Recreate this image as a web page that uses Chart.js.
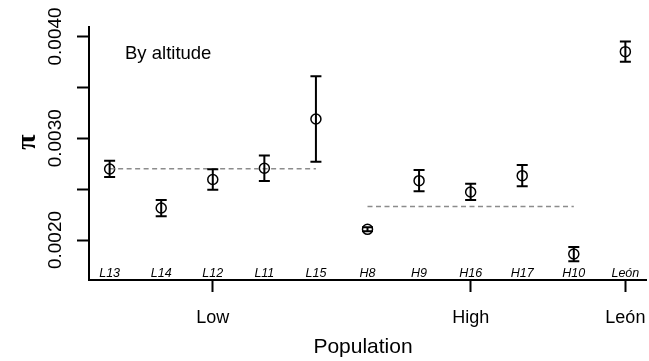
<!DOCTYPE html>
<html>
<head>
<meta charset="utf-8">
<script src="https://cdn.jsdelivr.net/npm/chart.js@4/dist/chart.umd.min.js"></script>
<style>
  html, body { margin: 0; padding: 0; background: #fff; overflow: hidden; }
  #wrap { width: 649px; height: 361px; overflow: hidden; position: relative; }
  #box { width: 700px; height: 361px; position: absolute; left: 0; top: 0; }
</style>
</head>
<body>
<div id="wrap"><div id="box"><canvas id="c"></canvas></div></div>
<script>
// ---- data ----
const categories = ['L13','L14','L12','L11','L15','H8','H9','H16','H17','H10','León'];
const piValues   = [0.002698, 0.002314, 0.002595, 0.002705, 0.003189, 0.002105, 0.002583, 0.002472, 0.002632, 0.001862, 0.003851];
const piErrors   = [0.00008, 0.00008, 0.00010, 0.000125, 0.00042, 0.00002, 0.000105, 0.00008, 0.000105, 0.00007, 0.00010];
const groupLabels    = ['Low', 'High', 'León'];
const groupPositions = [2, 7, 10];
const lowMeanRange  = [0, 4];
const lowMean       = 0.00270;
const highMeanRange = [5, 9];
const highMean      = 0.00233;
const yTickValues   = [0.0020, 0.0025, 0.0030, 0.0035, 0.0040];
const yTickLabels   = ['0.0020', '', '0.0030', '', '0.0040'];
const panelLabel = 'By altitude';
const xTitle = 'Population';
const yTitle = 'π';

const SANS = '"Liberation Sans", Arial, sans-serif';

const pointData = categories.map((c, i) => ({ x: i, y: piValues[i] }));

const decorPlugin = {
  id: 'decor',
  afterDatasetsDraw(chart) {
    const ctx = chart.ctx;
    const xs = chart.scales.x, ys = chart.scales.y;
    const ca = chart.chartArea;
    ctx.save();
    // error bars
    ctx.strokeStyle = '#000';
    ctx.lineWidth = 2;
    piValues.forEach((v, i) => {
      const px = xs.getPixelForValue(i);
      const top = ys.getPixelForValue(v + piErrors[i]);
      const bot = ys.getPixelForValue(v - piErrors[i]);
      ctx.beginPath();
      ctx.moveTo(px, top); ctx.lineTo(px, bot);
      ctx.moveTo(px - 5.5, top); ctx.lineTo(px + 5.5, top);
      ctx.moveTo(px - 5.5, bot); ctx.lineTo(px + 5.5, bot);
      ctx.stroke();
    });
    // category labels inside plot
    ctx.fillStyle = '#000';
    ctx.font = 'italic 12.5px ' + SANS;
    ctx.textAlign = 'center';
    ctx.textBaseline = 'alphabetic';
    categories.forEach((c, i) => {
      ctx.fillText(c, xs.getPixelForValue(i), ca.bottom - 3.5);
    });
    ctx.restore();
  },
  afterDraw(chart) {
    const ctx = chart.ctx;
    const xs = chart.scales.x, ys = chart.scales.y;
    const ca = chart.chartArea;
    ctx.save();
    ctx.fillStyle = '#000';
    // group labels
    ctx.font = '18px ' + SANS;
    ctx.textAlign = 'center';
    ctx.textBaseline = 'alphabetic';
    groupLabels.forEach((g, i) => {
      ctx.fillText(g, xs.getPixelForValue(groupPositions[i]), ca.bottom + 43);
    });
    // x title
    ctx.font = '21px ' + SANS;
    ctx.fillText(xTitle, 363, 352.5);
    // panel label
    ctx.textAlign = 'left';
    ctx.font = '18.5px ' + SANS;
    ctx.fillText(panelLabel, 125, 58.5);
    // y tick labels (rotated)
    ctx.font = '19px ' + SANS;
    ctx.textAlign = 'center';
    ctx.textBaseline = 'middle';
    yTickValues.forEach((v, i) => {
      if (!yTickLabels[i]) return;
      ctx.save();
      ctx.translate(55.5, ys.getPixelForValue(v));
      ctx.rotate(-Math.PI / 2);
      ctx.fillText(yTickLabels[i], 0, 0);
      ctx.restore();
    });
    // y title
    ctx.save();
    ctx.font = 'bold 28px "Liberation Serif", serif';
    ctx.translate(28, 142);
    ctx.rotate(-Math.PI / 2);
    ctx.fillText(yTitle, 0, 0);
    ctx.restore();
    ctx.restore();
  }
};

new Chart(document.getElementById('c'), {
  type: 'scatter',
  data: {
    datasets: [
      {
        type: 'line',
        data: lowMeanRange.map(x => ({ x, y: lowMean })),
        borderColor: '#8c8c8c', borderWidth: 1.5, borderDash: [5, 3.5],
        pointRadius: 0, fill: false
      },
      {
        type: 'line',
        data: highMeanRange.map(x => ({ x, y: highMean })),
        borderColor: '#8c8c8c', borderWidth: 1.5, borderDash: [5, 3.5],
        pointRadius: 0, fill: false
      },
      {
        data: pointData,
        pointStyle: 'circle',
        pointRadius: 5,
        pointHoverRadius: 5,
        borderWidth: 1.5,
        borderColor: '#000',
        backgroundColor: 'rgba(0,0,0,0)'
      }
    ]
  },
  options: {
    responsive: true,
    maintainAspectRatio: false,
    animation: false,
    events: [],
    layout: { padding: { left: 0, right: 54, top: 27, bottom: 0 } },
    plugins: { legend: { display: false }, tooltip: { enabled: false } },
    scales: {
      x: {
        type: 'linear',
        min: -0.4, max: 10.4,
        afterBuildTicks: s => { s.ticks = groupPositions.map(v => ({ value: v })); },
        afterFit: s => { s.height = 81; },
        ticks: { display: false },
        grid: { drawOnChartArea: false, drawTicks: true, tickLength: 12, tickWidth: 2, tickColor: '#000' },
        border: { display: true, color: '#000', width: 2 }
      },
      y: {
        type: 'linear',
        min: 0.001607, max: 0.004093,
        afterBuildTicks: s => { s.ticks = yTickValues.map(v => ({ value: v })); },
        afterFit: s => { s.width = 89; },
        ticks: { display: false },
        grid: { drawOnChartArea: false, drawTicks: true, tickLength: 12, tickWidth: 2, tickColor: '#000' },
        border: { display: true, color: '#000', width: 2 }
      }
    }
  },
  plugins: [decorPlugin]
});
</script>
</body>
</html>
